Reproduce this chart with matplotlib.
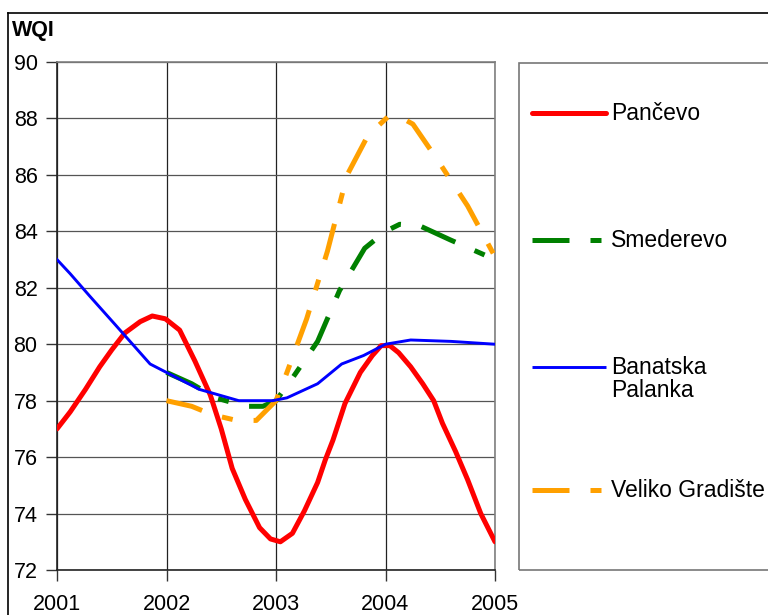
import matplotlib
matplotlib.use("Agg")
import matplotlib.pyplot as plt
from matplotlib.lines import Line2D
from matplotlib.patches import Rectangle

plt.rcParams['font.family'] = ['Liberation Sans', 'DejaVu Sans']

# ---- data ----
pancevo_x = [2001.0, 2001.12, 2001.26, 2001.39, 2001.5, 2001.62, 2001.76, 2001.87, 2001.99,
             2002.12, 2002.26, 2002.4, 2002.5, 2002.6, 2002.72, 2002.85, 2002.95, 2003.04,
             2003.15, 2003.26, 2003.38, 2003.45, 2003.52, 2003.63, 2003.77, 2003.88, 2003.96,
             2004.04, 2004.12, 2004.23, 2004.34, 2004.44, 2004.52, 2004.64, 2004.75, 2004.87,
             2005.0]
pancevo_y = [77.0, 77.6, 78.4, 79.2, 79.8, 80.4, 80.8, 81.0, 80.9,
             80.5, 79.4, 78.2, 77.0, 75.6, 74.5, 73.5, 73.1, 73.0,
             73.3, 74.1, 75.1, 75.9, 76.6, 77.9, 79.0, 79.6, 79.95,
             79.95, 79.7, 79.2, 78.6, 78.0, 77.2, 76.2, 75.2, 74.0,
             73.0]

banatska_x = [2001.0, 2001.12, 2001.3, 2001.53, 2001.85, 2002.0, 2002.3, 2002.66, 2002.97,
              2003.1, 2003.38, 2003.6, 2003.8, 2004.0, 2004.23, 2004.6, 2005.0]
banatska_y = [83.0, 82.5, 81.7, 80.7, 79.3, 79.0, 78.4, 78.0, 78.0,
              78.1, 78.6, 79.3, 79.6, 80.0, 80.15, 80.1, 80.0]

smederevo_x = [2002.0, 2002.23, 2002.45, 2002.72, 2002.88, 2003.0, 2003.15, 2003.38, 2003.58,
               2003.81, 2004.0, 2004.13, 2004.31, 2004.59, 2005.0]
smederevo_y = [79.0, 78.6, 78.1, 77.8, 77.8, 78.0, 78.8, 80.1, 81.9,
               83.4, 84.0, 84.25, 84.2, 83.7, 83.0]

gradiste_x = [2002.0, 2002.23, 2002.42, 2002.64, 2002.82, 2003.0, 2003.1, 2003.28, 2003.47,
              2003.65, 2003.84, 2004.02, 2004.11, 2004.25, 2004.48, 2004.75, 2005.0]
gradiste_y = [78.0, 77.8, 77.5, 77.3, 77.3, 78.0, 79.0, 80.9, 83.3,
              86.0, 87.4, 88.05, 88.1, 87.8, 86.5, 84.9, 83.1]

years = [2001, 2002, 2003, 2004, 2005]
yticks = [72, 74, 76, 78, 80, 82, 84, 86, 88, 90]
series_names = ['Pančevo', 'Smederevo', 'Banatska\nPalanka', 'Veliko Gradište']
colors = ['#ff0000', '#008000', '#0000ff', '#ffa000']

W, H = 768, 615
fig = plt.figure(figsize=(W / 100, H / 100), dpi=100)


def fx(px):
    return px / W


def fy(py):
    return 1 - py / H


ax = fig.add_axes([fx(57), fy(570), fx(495) - fx(57), fy(62) - fy(570)])
dash = (0, (7.4, 4.2, 2.2, 4.2))

ax.plot(pancevo_x, pancevo_y, color=colors[0], lw=3.6, solid_capstyle='round',
        solid_joinstyle='round', zorder=5)
ax.plot(smederevo_x, smederevo_y, color=colors[1], lw=3.6, ls=dash, zorder=3)
ax.plot(banatska_x, banatska_y, color=colors[2], lw=2.1, solid_joinstyle='round', zorder=6)
ax.plot(gradiste_x, gradiste_y, color=colors[3], lw=3.6, ls=dash, zorder=4)

ax.set_xlim(2001, 2005)
ax.set_ylim(72, 90)
ax.set_xticks(years)
ax.set_xticklabels([str(y) for y in years])
ax.set_yticks(yticks)
ax.set_yticklabels([str(v) for v in yticks])
ax.tick_params(axis='both', labelsize=15.5, length=8, width=1, color='#333333')
ax.tick_params(axis='x', pad=9)
ax.tick_params(axis='y', pad=6)
ax.grid(axis='y', color='#555555', lw=0.9)
ax.grid(axis='x', color='#222222', lw=0.9)
ax.set_axisbelow(True)
for s in ['left', 'bottom']:
    ax.spines[s].set_color('#222222')
    ax.spines[s].set_linewidth(1.2)
for s in ['top', 'right']:
    ax.spines[s].set_color('#808080')
    ax.spines[s].set_linewidth(1.2)

# WQI label
fig.text(fx(12), fy(36), 'WQI', fontsize=15.5, fontweight='bold', va='baseline', ha='left')

# outer chart border (partly outside the picture)
fig.add_artist(Line2D([fx(8), fx(8)], [fy(13), fy(700)], color='black', lw=1.2))
fig.add_artist(Line2D([fx(8), fx(800)], [fy(13), fy(13)], color='black', lw=1.2))

# legend box
fig.add_artist(Rectangle((fx(519), fy(570)), fx(800) - fx(519), fy(63) - fy(570),
                         fill=False, edgecolor='#777777', lw=1.2))

leg_y = [113, 240, 367, 490]
leg_ls = ['-', dash, '-', dash]
leg_lw = [3.6, 3.6, 2.1, 3.6]
for i in range(4):
    y = fy(leg_y[i])
    fig.add_artist(Line2D([fx(532), fx(606)], [y, y], color=colors[i], lw=leg_lw[i],
                          ls=leg_ls[i], solid_capstyle='round' if i == 0 else 'butt'))
    for j, part in enumerate(series_names[i].split('\n')):
        fig.text(fx(611), fy(leg_y[i] + 7 + 23 * j), part, fontsize=16.5,
                 va='baseline', ha='left')

fig.savefig('out.png', dpi=100)
